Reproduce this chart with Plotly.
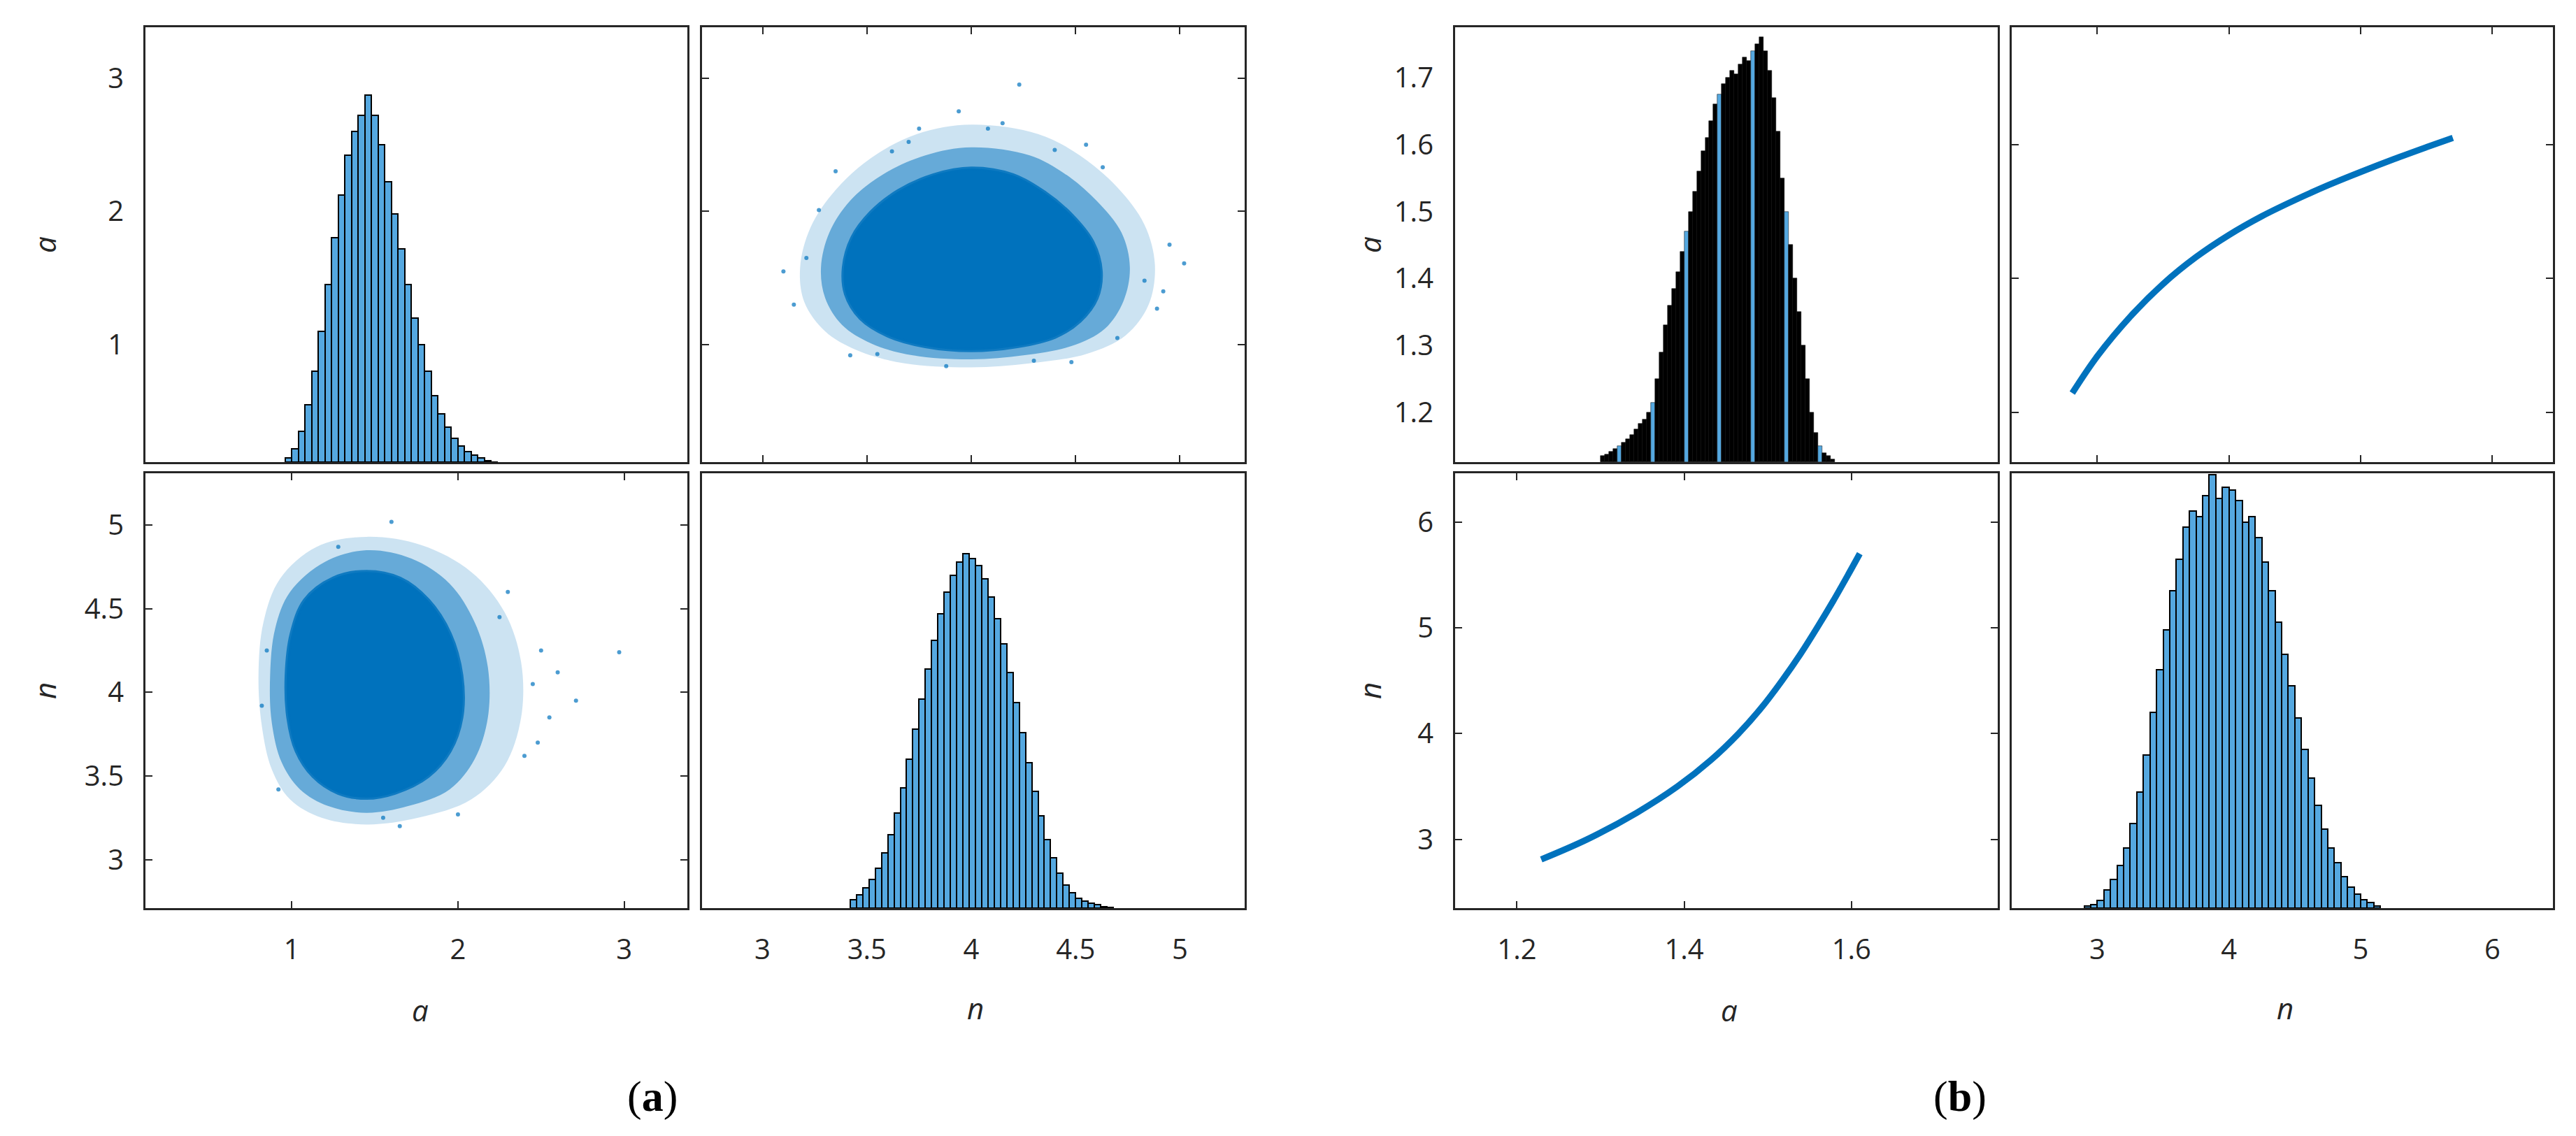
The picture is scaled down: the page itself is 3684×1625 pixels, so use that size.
import plotly.graph_objects as go

W, H = 3684, 1625
BLUE = "#0072BD"
HFILL = "#55A8E0"

# ---------------- data (a) ----------------
ha_centers = [0.98 + 0.04 * i for i in range(32)]
ha_tops = [0.15, 0.22, 0.35, 0.55, 0.80, 1.10, 1.45, 1.80, 2.12, 2.42, 2.60, 2.72, 2.87, 2.72, 2.50, 2.22,
           1.98, 1.72, 1.45, 1.20, 1.00, 0.80, 0.62, 0.48, 0.38, 0.30, 0.24, 0.20, 0.17, 0.15, 0.13, 0.12]
hn_centers = [3.435 + 0.03 * i for i in range(42)]
hn_tops = [2.76, 2.79, 2.83, 2.88, 2.95, 3.04, 3.15, 3.28, 3.43, 3.60, 3.78, 3.96, 4.14, 4.31, 4.47, 4.60,
           4.70, 4.78, 4.83, 4.80, 4.76, 4.68, 4.57, 4.44, 4.29, 4.12, 3.94, 3.76, 3.58, 3.41, 3.26, 3.12,
           3.01, 2.92, 2.85, 2.80, 2.77, 2.75, 2.74, 2.73, 2.72, 2.715]
# cloud outlines (n, a) for upper-right panel
core_tr_n = [4.00, 4.20, 4.35, 4.48, 4.58, 4.62, 4.60, 4.52, 4.40, 4.22, 4.00, 3.78, 3.60, 3.47, 3.40, 3.39, 3.43, 3.52, 3.65, 3.82]
core_tr_a = [2.32, 2.27, 2.14, 1.97, 1.77, 1.55, 1.35, 1.18, 1.06, 0.99, 0.96, 0.99, 1.07, 1.20, 1.38, 1.58, 1.80, 1.99, 2.15, 2.27]
fuzz_tr_n = [4.00, 4.28, 4.45, 4.60, 4.72, 4.76, 4.73, 4.64, 4.48, 4.25, 4.00, 3.72, 3.52, 3.38, 3.30, 3.28, 3.32, 3.42, 3.58, 3.78]
fuzz_tr_a = [2.48, 2.42, 2.28, 2.08, 1.84, 1.58, 1.33, 1.12, 0.99, 0.92, 0.89, 0.92, 1.01, 1.15, 1.35, 1.58, 1.84, 2.08, 2.28, 2.42]
outer_tr_n = [4.00, 4.32, 4.52, 4.70, 4.83, 4.88, 4.85, 4.74, 4.55, 4.28, 4.00, 3.68, 3.45, 3.30, 3.20, 3.18, 3.23, 3.35, 3.52, 3.74]
outer_tr_a = [2.65, 2.58, 2.42, 2.18, 1.90, 1.60, 1.30, 1.07, 0.93, 0.86, 0.83, 0.86, 0.96, 1.10, 1.32, 1.58, 1.88, 2.16, 2.40, 2.58]
out_tr_n = [4.23, 3.94, 4.08, 3.21, 5.02, 4.89, 3.42, 3.88, 4.48, 4.83, 3.27, 4.63, 3.62, 4.40, 3.55, 4.70, 4.30, 3.70,
            3.10, 4.95, 3.15, 4.92, 3.75, 4.15, 3.35, 4.55]
out_tr_a = [2.95, 2.75, 2.62, 1.65, 1.61, 1.27, 0.92, 0.84, 0.87, 1.48, 2.01, 2.33, 2.45, 2.46, 0.93, 1.05, 0.88, 2.52,
            1.55, 1.75, 1.30, 1.40, 2.62, 2.66, 2.30, 2.50]
# cloud outlines (a, n) for lower-left panel
core_bl_a = [1.45, 1.65, 1.82, 1.95, 2.02, 2.02, 1.95, 1.82, 1.62, 1.45, 1.28, 1.13, 1.03, 0.98, 0.97, 1.00, 1.08, 1.25]
core_bl_n = [4.72, 4.68, 4.55, 4.35, 4.10, 3.85, 3.65, 3.50, 3.40, 3.37, 3.40, 3.50, 3.65, 3.85, 4.10, 4.35, 4.55, 4.68]
fuzz_bl_a = [1.45, 1.72, 1.95, 2.10, 2.18, 2.18, 2.10, 1.95, 1.70, 1.45, 1.22, 1.05, 0.94, 0.88, 0.87, 0.90, 0.99, 1.20]
fuzz_bl_n = [4.85, 4.80, 4.65, 4.42, 4.15, 3.85, 3.60, 3.42, 3.32, 3.28, 3.32, 3.42, 3.58, 3.82, 4.10, 4.38, 4.60, 4.78]
outer_bl_a = [1.45, 1.78, 2.08, 2.28, 2.38, 2.38, 2.28, 2.08, 1.76, 1.45, 1.18, 0.99, 0.88, 0.82, 0.80, 0.83, 0.93, 1.15]
outer_bl_n = [4.93, 4.88, 4.72, 4.48, 4.18, 3.85, 3.56, 3.36, 3.25, 3.21, 3.25, 3.36, 3.54, 3.80, 4.10, 4.42, 4.68, 4.87]
out_bl_a = [1.60, 1.28, 2.97, 2.71, 2.30, 2.50, 2.55, 2.40, 0.92, 1.65, 1.55, 2.00, 0.82, 0.85, 2.25, 2.45, 2.60, 2.48]
out_bl_n = [5.02, 4.87, 4.24, 3.95, 4.60, 4.25, 3.85, 3.62, 3.42, 3.20, 3.25, 3.27, 3.92, 4.25, 4.45, 4.05, 4.12, 3.70]

# ---------------- data (b) ----------------
hb_a_centers = [1.3025 + 0.005 * i for i in range(56)]
hb_a_tops = [1.135, 1.138, 1.142, 1.146, 1.150, 1.155, 1.160, 1.167, 1.175, 1.183, 1.19, 1.20, 1.215, 1.25,
             1.29, 1.33, 1.36, 1.385, 1.41, 1.44, 1.47, 1.50, 1.53, 1.56, 1.59, 1.61, 1.635, 1.66, 1.675,
             1.69, 1.70, 1.71, 1.705, 1.72, 1.73, 1.725, 1.74, 1.75, 1.76, 1.74, 1.71, 1.67, 1.62, 1.55,
             1.50, 1.45, 1.40, 1.35, 1.30, 1.25, 1.20, 1.17, 1.15, 1.14, 1.135, 1.13]
hb_n_centers = [2.925 + 0.05 * i for i in range(45)]
hb_n_tops = [2.37, 2.38, 2.42, 2.52, 2.62, 2.75, 2.92, 3.15, 3.45, 3.80, 4.20, 4.60, 4.98, 5.35, 5.65, 5.95,
             6.10, 6.05, 6.25, 6.45, 6.22, 6.33, 6.30, 6.20, 6.00, 6.05, 5.85, 5.62, 5.35, 5.05, 4.75, 4.45,
             4.15, 3.85, 3.58, 3.32, 3.10, 2.92, 2.78, 2.65, 2.55, 2.48, 2.43, 2.40, 2.37]
curve_n = [2.81, 3.0, 3.25, 3.5, 3.75, 4.0, 4.25, 4.5, 4.75, 5.0, 5.25, 5.5, 5.70]
curve_a = [1.229, 1.284, 1.343, 1.392, 1.432, 1.465, 1.493, 1.517, 1.539, 1.559, 1.578, 1.596, 1.610]

RANGE_A1 = [0.12, 3.38]
RANGE_N1 = [2.71, 5.31]
RANGE_A2 = [1.126, 1.775]
RANGE_N2 = [2.35, 6.46]

cols = [(200, 975), (996, 1772), (2073, 2849), (2869, 3643)]
rows = [(31, 653), (669, 1291)]

def xd(c):
    return [cols[c][0] / W, cols[c][1] / W]

def yd(r):
    return [1 - rows[r][1] / H, 1 - rows[r][0] / H]

fig = go.Figure()
TF = dict(family="Open Sans", size=40, color="#262626")

panels = [
    (0, 0, RANGE_A1, RANGE_A1, [], [1, 2, 3], False, True, False),
    (1, 0, RANGE_N1, RANGE_A1, [3, 3.5, 4, 4.5, 5], [1, 2, 3], False, False, True),
    (0, 1, RANGE_A1, RANGE_N1, [1, 2, 3], [3, 3.5, 4, 4.5, 5], True, True, True),
    (1, 1, RANGE_N1, RANGE_N1, [3, 3.5, 4, 4.5, 5], [], True, False, False),
    (2, 0, RANGE_A2, RANGE_A2, [], [1.2, 1.3, 1.4, 1.5, 1.6, 1.7], False, True, False),
    (3, 0, RANGE_N2, RANGE_A2, [3, 4, 5, 6], [1.2, 1.4, 1.6], False, False, True),
    (2, 1, RANGE_A2, RANGE_N2, [1.2, 1.4, 1.6], [3, 4, 5, 6], True, True, True),
    (3, 1, RANGE_N2, RANGE_N2, [3, 4, 5, 6], [], True, False, False),
]
lay = {}
for i, (c, r, xr, yr, xt, yt, sxl, syl, tm) in enumerate(panels):
    k = "" if i == 0 else str(i + 1)
    lay["xaxis" + k] = dict(domain=xd(c), range=xr, anchor="y" + k, tickvals=xt,
                            showticklabels=sxl, ticks="inside" if tm else "", ticklen=10, tickwidth=2,
                            tickcolor="#262626", mirror="ticks" if tm else True, showline=True,
                            linecolor="#262626", linewidth=3, showgrid=False, zeroline=False,
                            tickfont=TF, ticklabelstandoff=22)
    lay["yaxis" + k] = dict(domain=yd(r), range=yr, anchor="x" + k, tickvals=yt,
                            showticklabels=syl, ticks="inside" if tm else "", ticklen=10, tickwidth=2,
                            tickcolor="#262626", mirror="ticks" if tm else True, showline=True,
                            linecolor="#262626", linewidth=3, showgrid=False, zeroline=False,
                            tickfont=TF, ticklabelstandoff=20)

def ax(i):
    k = "" if i == 0 else str(i + 1)
    return dict(xaxis="x" + k, yaxis="y" + k)

def hist(i, centers, tops, base, step, color, lw):
    fig.add_trace(go.Bar(x=centers, y=[t - base for t in tops], base=base, width=step,
                         marker=dict(color=color, line=dict(color="black", width=lw)),
                         showlegend=False, **ax(i)))

def poly(i, px, py, col, lw=0, lcol=None):
    fig.add_trace(go.Scatter(x=px + px[:1], y=py + py[:1], fill="toself", mode="lines",
                             line=dict(width=lw, color=lcol or col, shape="spline"), fillcolor=col,
                             showlegend=False, **ax(i)))

def cloud(i, ox_, oy_, fx, fy, cx, cy, ox, oy):
    poly(i, ox_, oy_, "rgba(0,114,189,0.2)")
    poly(i, fx, fy, "rgba(0,114,189,0.5)")
    poly(i, cx, cy, BLUE, 6, "rgba(0,114,189,0.85)")
    fig.add_trace(go.Scatter(x=ox, y=oy, mode="markers", marker=dict(size=6, color=BLUE, opacity=0.7),
                             showlegend=False, **ax(i)))

hist(0, ha_centers, ha_tops, RANGE_A1[0], 0.04, HFILL, 2)
cloud(1, outer_tr_n, outer_tr_a, fuzz_tr_n, fuzz_tr_a, core_tr_n, core_tr_a, out_tr_n, out_tr_a)
cloud(2, outer_bl_a, outer_bl_n, fuzz_bl_a, fuzz_bl_n, core_bl_a, core_bl_n, out_bl_a, out_bl_n)
hist(3, hn_centers, hn_tops, RANGE_N1[0], 0.03, HFILL, 2)

hb_colors = [HFILL if i % 8 == 4 else "black" for i in range(len(hb_a_centers))]
hist(4, hb_a_centers, hb_a_tops, RANGE_A2[0], 0.005, hb_colors, 0.5)
fig.add_trace(go.Scatter(x=curve_n, y=curve_a, mode="lines", line=dict(color=BLUE, width=9, shape="spline"),
                         showlegend=False, **ax(5)))
fig.add_trace(go.Scatter(x=curve_a, y=curve_n, mode="lines", line=dict(color=BLUE, width=9, shape="spline"),
                         showlegend=False, **ax(6)))
hist(7, hb_n_centers, hb_n_tops, RANGE_N2[0], 0.05, HFILL, 2)

LF = dict(family="Open Sans", size=42, color="#262626")
anns = []
def lab(x, y, t, rot=0, font=LF):
    anns.append(dict(x=x / W, y=1 - y / H, xref="paper", yref="paper", text=t, showarrow=False,
                     textangle=rot, font=font, xanchor="center", yanchor="middle"))

lab(55, 342, "<i>a</i>", -90)
lab(55, 980, "<i>n</i>", -90)
lab(1950, 342, "<i>a</i>", -90)
lab(1950, 980, "<i>n</i>", -90)
lab(593, 1436, "<i>a</i>")
lab(1387, 1433, "<i>n</i>")
lab(2465, 1436, "<i>a</i>")
lab(3260, 1433, "<i>n</i>")
SF = dict(family="Liberation Serif", size=62, color="black")
lab(925, 1560, "(<b>a</b>)", font=SF)
lab(2795, 1560, "(<b>b</b>)", font=SF)

fig.update_layout(width=W, height=H, margin=dict(l=0, r=0, t=0, b=0), paper_bgcolor="white",
                  plot_bgcolor="white", barmode="overlay", bargap=0, annotations=anns, **lay)
fig.write_html("out.html")
